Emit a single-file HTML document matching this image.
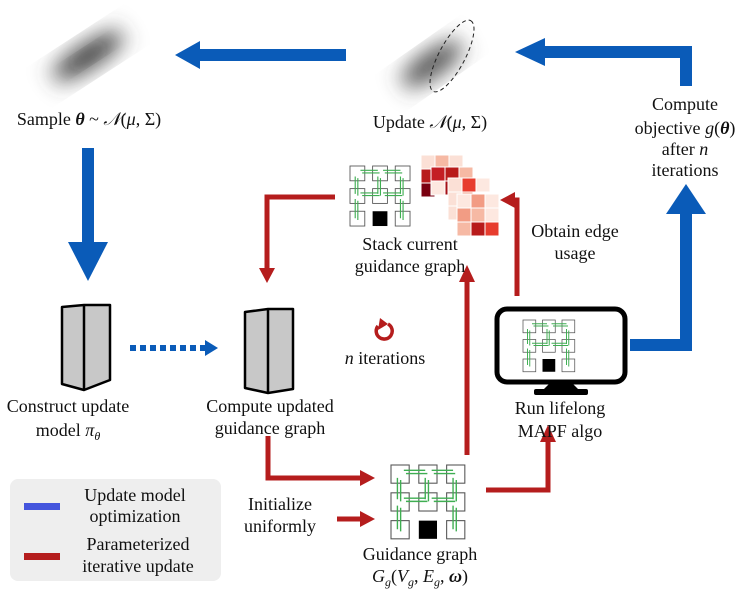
<!DOCTYPE html>
<html><head><meta charset="utf-8"><style>
html,body{margin:0;padding:0;background:#fff;}
svg{display:block;}
text{font-family:"Liberation Serif",serif;font-size:18px;fill:#111;}
</style></head><body>
<svg width="748" height="591" viewBox="0 0 748 591" xmlns="http://www.w3.org/2000/svg">
<defs>
<filter id="bl" x="-50%" y="-50%" width="200%" height="200%"><feGaussianBlur stdDeviation="11"/></filter>
<g id="grid">
<g fill="#fff" stroke="#555" stroke-width="1">
<rect x="0" y="0" width="17" height="17"/><rect x="26" y="0" width="17" height="17"/><rect x="52" y="0" width="17" height="17"/>
<rect x="0" y="26" width="17" height="17"/><rect x="26" y="26" width="17" height="17"/><rect x="52" y="26" width="17" height="17"/>
<rect x="0" y="52" width="17" height="17"/><rect x="52" y="52" width="17" height="17"/>
</g>
<rect x="26" y="52" width="17" height="17" fill="#000"/>
<g stroke="#3fae52" stroke-width="1.3" fill="none">
<path d="M12 5H32M14 8H34M38 5H58M40 8H60M12 31H32M14 34H34M38 31H58M40 34H60"/>
<path d="M6 12V32M9 14V34M32 12V32M35 14V34M58 12V32M61 14V34M6 38V60M9 40V62M58 38V60M61 40V62"/>
</g>
</g>
</defs>

<!-- blobs -->
<ellipse cx="88" cy="56" rx="42" ry="12" fill="#444" filter="url(#bl)" transform="rotate(-33 88 56)"/>
<ellipse cx="88" cy="56" rx="18" ry="5" fill="#222" filter="url(#bl)" transform="rotate(-33 88 56)" opacity="0.6"/>
<ellipse cx="432" cy="64" rx="36" ry="12" fill="#444" filter="url(#bl)" transform="rotate(-35 432 64)"/>
<ellipse cx="452" cy="56" rx="40" ry="13" fill="none" stroke="#222" stroke-dasharray="4,3" transform="rotate(-62 452 56)"/>

<!-- blue arrows -->
<g fill="#0a5bb8">
<rect x="200" y="49" width="146" height="12"/><polygon points="175,55 200,41 200,69"/>
<rect x="680" y="46" width="12" height="40"/><rect x="545" y="46" width="147" height="12"/><polygon points="515,52 545,38 545,66"/>
<rect x="82" y="148" width="12" height="95"/><polygon points="68,242 108,242 88,281"/>
<rect x="630" y="339" width="62" height="12"/><rect x="680" y="212" width="12" height="139"/><polygon points="666,214 706,214 686,184"/>
<polygon points="205,340 218,348 205,356"/>
</g>
<line x1="130" y1="348" x2="205" y2="348" stroke="#0a5bb8" stroke-width="6" stroke-dasharray="6,4"/>

<!-- red arrows -->
<g fill="none" stroke="#b51d1d" stroke-width="5">
<path d="M335 197H267V270"/>
<path d="M268 436V478H362"/>
<path d="M337 519H362"/>
<path d="M467 455V280"/>
<path d="M486 490H548V440"/>
<path d="M517 296V200H514"/>
</g>
<g fill="#b51d1d">
<polygon points="259,268 275,268 267,283"/>
<polygon points="360,470 360,486 375,478"/>
<polygon points="360,511 360,527 375,519"/>
<polygon points="459,282 475,282 467,265"/>
<polygon points="540,442 556,442 548,425"/>
<polygon points="515,192 515,208 500,200"/>
</g>
<!-- circular arrow -->
<path d="M378 326 A8 8 0 1 0 388 324" fill="none" stroke="#b51d1d" stroke-width="3.5"/>
<polygon points="380,318 388,324 378,330" fill="#b51d1d"/>

<!-- books -->
<g stroke="#000" stroke-width="2.5" fill="#c8c8c8" stroke-linejoin="round">
<polygon points="62,307 84,305 110,305 110,380 84,390 62,384"/>
<line x1="84" y1="305" x2="84" y2="390"/>
<polygon points="245,312 268,309 293,309 293,389 268,393 245,388"/>
<line x1="268" y1="309" x2="268" y2="393"/>
</g>

<!-- stack graph -->
<use href="#grid" transform="translate(350 166) scale(0.87)"/>
<g stroke="#fff" stroke-width="1">
<g transform="translate(421,155)"><rect width="14" height="14" fill="#fbe0d6"/><rect x="14" width="14" height="14" fill="#f6b9a4"/><rect x="28" width="14" height="14" fill="#fbe0d6"/><rect y="14" width="14" height="14" fill="#b81b1b"/><rect y="28" width="14" height="14" fill="#7a0010"/></g>
<g transform="translate(431,167)"><rect width="14" height="14" fill="#c41e24"/><rect x="14" width="14" height="14" fill="#b81b1b"/><rect x="28" width="14" height="14" fill="#f6b9a4"/><rect y="14" width="14" height="14" fill="#fde8e0"/><rect x="14" y="14" width="14" height="14" fill="#a50f15"/><rect x="28" y="14" width="14" height="14" fill="#f29c84"/></g>
<g transform="translate(448,178)"><rect width="14" height="14" fill="#fbe0d6"/><rect x="14" width="14" height="14" fill="#e73c2e"/><rect x="28" width="14" height="14" fill="#fde8e0"/><rect y="14" width="14" height="14" fill="#fbe0d6"/><rect y="28" width="14" height="14" fill="#fbe0d6"/></g>
<g transform="translate(457,194)"><rect width="14" height="14" fill="#fde8e0"/><rect x="14" width="14" height="14" fill="#f29c84"/><rect x="28" width="14" height="14" fill="#fde8e0"/><rect y="14" width="14" height="14" fill="#f29c84"/><rect x="14" y="14" width="14" height="14" fill="#f6b9a4"/><rect x="28" y="14" width="14" height="14" fill="#fde8e0"/><rect y="28" width="14" height="14" fill="#f6b9a4"/><rect x="14" y="28" width="14" height="14" fill="#b81b1b"/><rect x="28" y="28" width="14" height="14" fill="#e73c2e"/></g>
</g>

<!-- guidance graph -->
<use href="#grid" transform="translate(391 465) scale(1.07)"/>

<!-- monitor -->
<rect x="497" y="309" width="128" height="73" rx="10" fill="#fff" stroke="#000" stroke-width="5"/>
<path d="M552 381 L541 392 H581 L570 381 Z" fill="#000"/>
<rect x="534" y="389" width="54" height="6" rx="2" fill="#000"/>
<use href="#grid" transform="translate(523 320) scale(0.75)"/>

<!-- legend -->
<rect x="10" y="479" width="211" height="102" rx="8" fill="#eeeeee"/>
<rect x="24" y="503" width="36" height="7" fill="#4455dd"/>
<rect x="24" y="553" width="36" height="7" fill="#b51d1d"/>

<g text-anchor="middle">
<text x="89" y="125">Sample <tspan font-weight="bold" font-style="italic">θ</tspan> ~ <tspan font-style="italic">𝒩</tspan>(<tspan font-style="italic">μ</tspan>, Σ)</text>
<text x="430" y="128">Update <tspan font-style="italic">𝒩</tspan>(<tspan font-style="italic">μ</tspan>, Σ)</text>
<text x="685" y="110">Compute</text>
<text x="685" y="134">objective <tspan font-style="italic">g</tspan>(<tspan font-weight="bold" font-style="italic">θ</tspan>)</text>
<text x="685" y="155">after <tspan font-style="italic">n</tspan></text>
<text x="685" y="176">iterations</text>
<text x="410" y="250">Stack current</text>
<text x="410" y="272">guidance graph</text>
<text x="575" y="237">Obtain edge</text>
<text x="575" y="259">usage</text>
<text x="385" y="364"><tspan font-style="italic">n</tspan> iterations</text>
<text x="68" y="412">Construct update</text>
<text x="68" y="436">model <tspan font-style="italic">π</tspan><tspan font-style="italic" font-size="12" dy="4">θ</tspan></text>
<text x="270" y="412">Compute updated</text>
<text x="270" y="434">guidance graph</text>
<text x="560" y="414">Run lifelong</text>
<text x="560" y="437">MAPF algo</text>
<text x="280" y="510">Initialize</text>
<text x="280" y="532">uniformly</text>
<text x="420" y="560">Guidance graph</text>
<text x="420" y="582"><tspan font-style="italic">G</tspan><tspan font-style="italic" font-size="12" dy="4">g</tspan><tspan dy="-4">(</tspan><tspan font-style="italic">V</tspan><tspan font-style="italic" font-size="12" dy="4">g</tspan><tspan dy="-4">, </tspan><tspan font-style="italic">E</tspan><tspan font-style="italic" font-size="12" dy="4">g</tspan><tspan dy="-4">, </tspan><tspan font-weight="bold" font-style="italic">ω</tspan>)</text>
<text x="135" y="501">Update model</text>
<text x="135" y="522">optimization</text>
<text x="138" y="550">Parameterized</text>
<text x="138" y="572">iterative update</text>
</g>
</svg>
</body></html>
